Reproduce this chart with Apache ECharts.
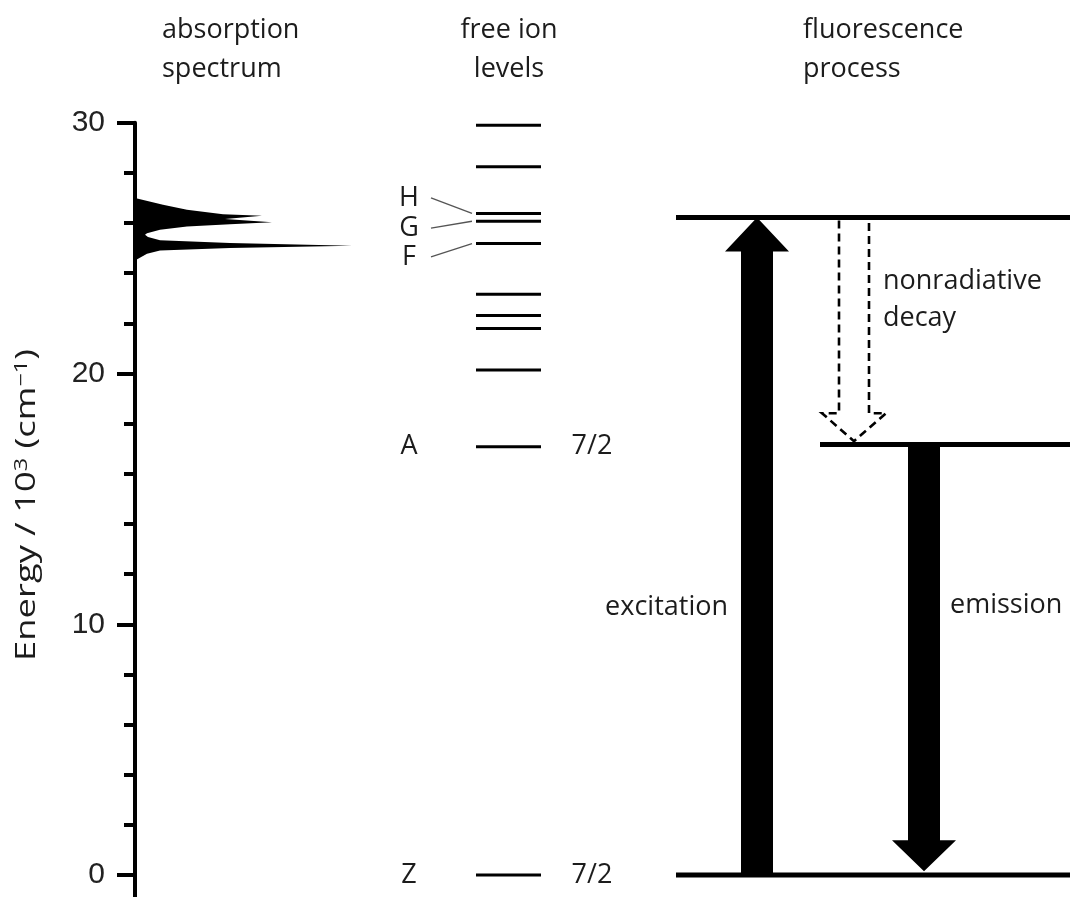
<!DOCTYPE html>
<html><head><meta charset="utf-8">
<script src="https://cdn.jsdelivr.net/npm/echarts@6/dist/echarts.min.js"></script>
<style>html,body{margin:0;padding:0;background:#fff}#c{width:1070px;height:897px}</style>
</head><body><div id="c"></div>
<script>
// ---------- data ----------
const yTickValues = [0, 10, 20, 30];
const spectrumEnergy    = [27.0, 26.73, 26.53, 26.35, 26.29, 26.16, 26.03, 25.95, 25.86, 25.73, 25.59, 25.53, 25.44, 25.31, 25.2, 25.09, 25.0, 24.9, 24.77, 24.51];
const spectrumIntensity = [0,    28,    52,    88,    127,   90,    137,   95,    52,    25,    12,    10,    13,    25,    95,   217,   95,   25,   12,    0];
const freeIonLevels = [29.9, 28.24, 26.38, 26.07, 25.18, 23.16, 22.31, 21.79, 20.14, 17.08, 0];
const levelLabels = ['H', 'G', 'F', 'A', 'Z'];
const levelLabelEnergy = [27.0, 25.8, 24.65, 17.08, 0];
const levelLabelTarget = [26.38, 26.07, 25.18, null, null];
const jLabels = ['7/2', '7/2'];
const jLabelEnergy = [17.08, 0];
const fluorLevels = [26.22, 17.17, 0];
const excitation = [0, 26.22];      // from, to
const emission = [17.17, 0.15];     // from, to
const nonradiative = [26.1, 17.3];  // from, to
const headers = [['absorption', 'spectrum'], ['free ion', 'levels'], ['fluorescence', 'process']];

// ---------- layout (pixels / x-units) ----------
const FONT = "'Open Sans', sans-serif";
const TXT = '#1c1c1c';
const FREE_X = [341, 406];
const HGF_X = 274, LEADER_X0 = 296, LEADER_X1 = 337;
const J_X = 457;
const FLUOR_X0 = [541, 685, 541], FLUOR_X1 = 935;
const EXC_X = 622, EMI_X = 789, NR_X = 719;

const chart = echarts.init(document.getElementById('c'), null, {renderer: 'canvas'});

function arrowPoly(api, xc, from, to, shaftHalf, headHalf, headLen) {
  const a = api.coord([xc, from]), b = api.coord([xc, to]);
  const dir = b[1] > a[1] ? 1 : -1;
  const base = b[1] - dir * headLen;
  const x = a[0];
  return [[x - shaftHalf, a[1]], [x - shaftHalf, base], [x - headHalf, base], [x, b[1]],
          [x + headHalf, base], [x + shaftHalf, base], [x + shaftHalf, a[1]]];
}

const option = {
  animation: false,
  backgroundColor: '#fff',
  grid: {left: 135, top: 122.7, width: 935, height: 1003.1, outerBoundsMode: 'none', containLabel: false},
  xAxis: {type: 'value', min: 0, max: 935, show: false},
  yAxis: {
    type: 'value', min: -10, max: 30, interval: 10,
    axisLine: {show: true, lineStyle: {color: '#000', width: 4}},
    axisTick: {show: true, length: 18, lineStyle: {color: '#000', width: 4}},
    minorTick: {show: true, splitNumber: 5, length: 11, lineStyle: {color: '#000', width: 4}},
    splitLine: {show: false},
    axisLabel: {fontSize: 30, fontFamily: "'Liberation Sans', Arial, sans-serif", color: '#222', margin: 30,
      formatter: v => yTickValues.indexOf(v) >= 0 ? String(v) : ''}
  },
  series: [
    { // absorption spectrum
      type: 'custom', clip: false, data: [[0, 0]],
      renderItem: (params, api) => ({
        type: 'polygon',
        shape: {points: spectrumEnergy.map((e, i) => api.coord([spectrumIntensity[i], e]))},
        style: {fill: '#000'}
      })
    },
    { // free ion levels
      type: 'custom', clip: false, data: freeIonLevels.map(e => [0, e]),
      renderItem: (params, api) => {
        const p1 = api.coord([FREE_X[0], api.value(1)]), p2 = api.coord([FREE_X[1], api.value(1)]);
        return {type: 'line', shape: {x1: p1[0], y1: p1[1], x2: p2[0], y2: p2[1]}, style: {stroke: '#000', lineWidth: 3}};
      }
    },
    { // level labels + leader lines
      type: 'custom', clip: false, data: levelLabels.map((l, i) => [i, levelLabelEnergy[i]]),
      renderItem: (params, api) => {
        const i = params.dataIndex;
        const p = api.coord([HGF_X, levelLabelEnergy[i]]);
        const children = [{type: 'text', x: p[0], y: p[1], style: {text: levelLabels[i], fontSize: 27, fontFamily: FONT, fill: TXT, align: 'center', verticalAlign: 'middle'}}];
        if (levelLabelTarget[i] != null) {
          const a = api.coord([LEADER_X0, levelLabelEnergy[i]]), b = api.coord([LEADER_X1, levelLabelTarget[i]]);
          children.push({type: 'line', shape: {x1: a[0], y1: a[1], x2: b[0], y2: b[1]}, style: {stroke: '#555', lineWidth: 1.3}});
        }
        return {type: 'group', children};
      }
    },
    { // J labels
      type: 'custom', clip: false, data: jLabels.map((l, i) => [i, jLabelEnergy[i]]),
      renderItem: (params, api) => {
        const p = api.coord([J_X, jLabelEnergy[params.dataIndex]]);
        return {type: 'text', x: p[0], y: p[1], style: {text: jLabels[params.dataIndex], fontSize: 27, fontFamily: FONT, fill: TXT, align: 'center', verticalAlign: 'middle'}};
      }
    },
    { // fluorescence levels
      type: 'custom', clip: false, data: fluorLevels.map((e, i) => [i, e]),
      renderItem: (params, api) => {
        const i = params.dataIndex;
        const p1 = api.coord([FLUOR_X0[i], fluorLevels[i]]), p2 = api.coord([FLUOR_X1, fluorLevels[i]]);
        return {type: 'line', shape: {x1: p1[0], y1: p1[1], x2: p2[0], y2: p2[1]}, style: {stroke: '#000', lineWidth: 5}};
      }
    },
    { // arrows
      type: 'custom', clip: false, data: [[0, 0]],
      renderItem: (params, api) => {
        const exc = arrowPoly(api, EXC_X, excitation[0], excitation[1], 16, 32, 34);
        const emi = arrowPoly(api, EMI_X, emission[0], emission[1], 16, 32, 31);
        const nr = arrowPoly(api, NR_X, nonradiative[0], nonradiative[1], 15, 32, 28);
        const eL = api.coord([EXC_X - 29, 10.69]), mL = api.coord([EMI_X + 26, 10.77]);
        const nL = api.coord([NR_X + 29, 23.67]), dL = api.coord([NR_X + 29, 22.2]);
        const ts = (t, p, al) => ({type: 'text', x: p[0], y: p[1], style: {text: t, fontSize: 27, fontFamily: FONT, fill: TXT, align: al, verticalAlign: 'middle'}});
        return {type: 'group', children: [
          {type: 'polygon', shape: {points: exc}, style: {fill: '#000'}},
          {type: 'polygon', shape: {points: emi}, style: {fill: '#000'}},
          {type: 'polyline', shape: {points: nr}, style: {stroke: '#000', lineWidth: 2.6, lineDash: [8, 5], fill: null}},
          ts('excitation', eL, 'right'), ts('emission', mL, 'left'),
          ts('nonradiative', nL, 'left'), ts('decay', dL, 'left')
        ]};
      }
    }
  ],
  graphic: [
    {type: 'text', x: 162, y: 30, style: {text: headers[0][0], fontSize: 27, fontFamily: FONT, fill: TXT, align: 'left', verticalAlign: 'middle'}},
    {type: 'text', x: 162, y: 69, style: {text: headers[0][1], fontSize: 27, fontFamily: FONT, fill: TXT, align: 'left', verticalAlign: 'middle'}},
    {type: 'text', x: 509, y: 30, style: {text: headers[1][0], fontSize: 27, fontFamily: FONT, fill: TXT, align: 'center', verticalAlign: 'middle'}},
    {type: 'text', x: 509, y: 69, style: {text: headers[1][1], fontSize: 27, fontFamily: FONT, fill: TXT, align: 'center', verticalAlign: 'middle'}},
    {type: 'text', x: 803, y: 30, style: {text: headers[2][0], fontSize: 27, fontFamily: FONT, fill: TXT, align: 'left', verticalAlign: 'middle'}},
    {type: 'text', x: 803, y: 69, style: {text: headers[2][1], fontSize: 27, fontFamily: FONT, fill: TXT, align: 'left', verticalAlign: 'middle'}},
    {type: 'text', x: 27, y: 505, rotation: Math.PI / 2, scaleX: 1.3,
     style: {text: 'Energy / 10{sup|3} (cm{sup|\u22121})', fontSize: 28, fontFamily: FONT, fill: TXT, align: 'center', verticalAlign: 'middle',
       rich: {sup: {fontSize: 18, fontFamily: FONT, fill: TXT, verticalAlign: 'top'}}}}
  ]
};
chart.setOption(option);
</script>
</body></html>
